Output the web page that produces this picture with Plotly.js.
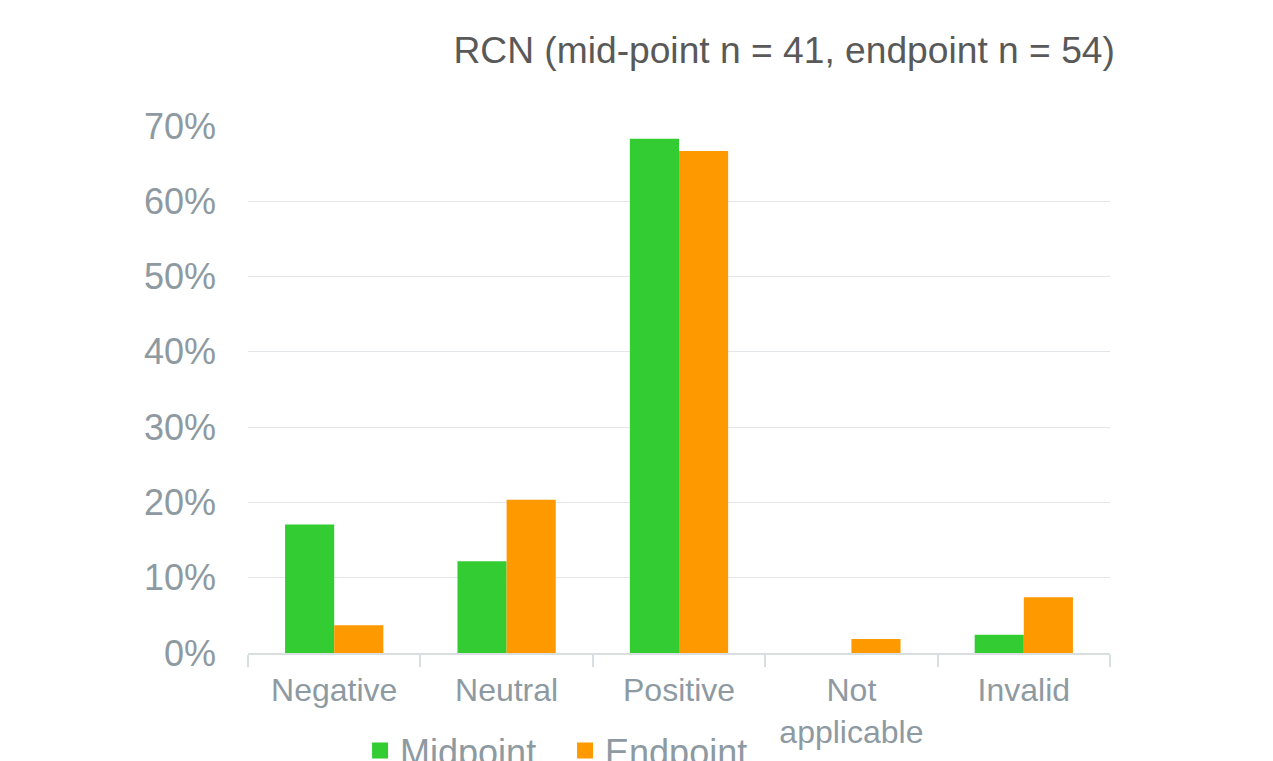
<!DOCTYPE html>
<html>
<head>
<meta charset="utf-8">
<script src="https://cdn.plot.ly/plotly-3.0.1.min.js"></script>
<style>html,body{margin:0;padding:0;background:#fff;}#chart{width:1273px;height:761px;}</style>
</head>
<body>
<div id="chart"></div>
<script>
var categories = ["Negative", "Neutral", "Positive", "Not<br>applicable", "Invalid"];
var midpointValues = [17.07, 12.20, 68.29, 0, 2.44];
var endpointValues = [3.70, 20.37, 66.67, 1.85, 7.41];
var seriesNames = ["Midpoint", "Endpoint"];
var seriesColors = ["#33CC33", "#FF9900"];
var yTickValues = [0, 10, 20, 30, 40, 50, 60, 70];
var yTickLabels = ["0%", "10%", "20%", "30%", "40%", "50%", "60%", "70%"];

var traces = [
  {type: "bar", name: seriesNames[0], x: categories, y: midpointValues, legendgroup: "m", showlegend: false,
   marker: {color: seriesColors[0]}, hoverinfo: "skip"},
  {type: "bar", name: seriesNames[1], x: categories, y: endpointValues, legendgroup: "e", showlegend: false,
   marker: {color: seriesColors[1]}, hoverinfo: "skip"},
  // legend keys only (larger square swatches)
  {type: "scatter", mode: "markers", name: seriesNames[0], legendgroup: "m", x: [categories[0]], y: [null],
   marker: {symbol: "square", size: 20, color: seriesColors[0]}, hoverinfo: "skip"},
  {type: "scatter", mode: "markers", name: seriesNames[1], legendgroup: "e", x: [categories[0]], y: [null],
   marker: {symbol: "square", size: 20, color: seriesColors[1]}, hoverinfo: "skip"}
];

var layout = {
  width: 1273, height: 761,
  margin: {l: 248, r: 163, t: 126, b: 108},
  paper_bgcolor: "#ffffff", plot_bgcolor: "#ffffff",
  font: {family: "Liberation Sans, Arial, sans-serif", color: "#8E9AA2"},
  title: {text: "RCN (mid-point n = 41, endpoint n = 54)", xref: "container", x: 0.616, xanchor: "center",
          yref: "container", y: 0.934, yanchor: "middle",
          font: {size: 37.2, color: "#595959", family: "Liberation Sans, Arial, sans-serif"}},
  barmode: "group", bargap: 0.43, bargroupgap: 0,
  xaxis: {type: "category", automargin: false, showline: true, linecolor: "#D9DEE1", linewidth: 2,
          ticks: "outside", tickson: "boundaries", ticklen: 12, tickcolor: "#D9DEE1", tickwidth: 2,
          tickfont: {size: 32, color: "#8E9AA2"}, showgrid: false, zeroline: false, ticklabelstandoff: 8},
  yaxis: {range: [0, 70], automargin: false, tickmode: "array", tickvals: yTickValues, ticktext: yTickLabels,
          showgrid: true, gridcolor: "#E3E7EA", gridwidth: 1,
          zeroline: false, showline: false, tickfont: {size: 36, color: "#8E9AA2"}, ticklabelstandoff: 31},
  legend: {orientation: "h", xref: "paper", x: 0.13, xanchor: "left", yref: "container", y: 0.053, yanchor: "top",
           font: {size: 36, color: "#8E9AA2"}, entrywidth: 160, entrywidthmode: "pixels", itemsizing: "trace"},
  showlegend: true
};

Plotly.newPlot("chart", traces, layout, {displayModeBar: false, staticPlot: true});
</script>
</body>
</html>
